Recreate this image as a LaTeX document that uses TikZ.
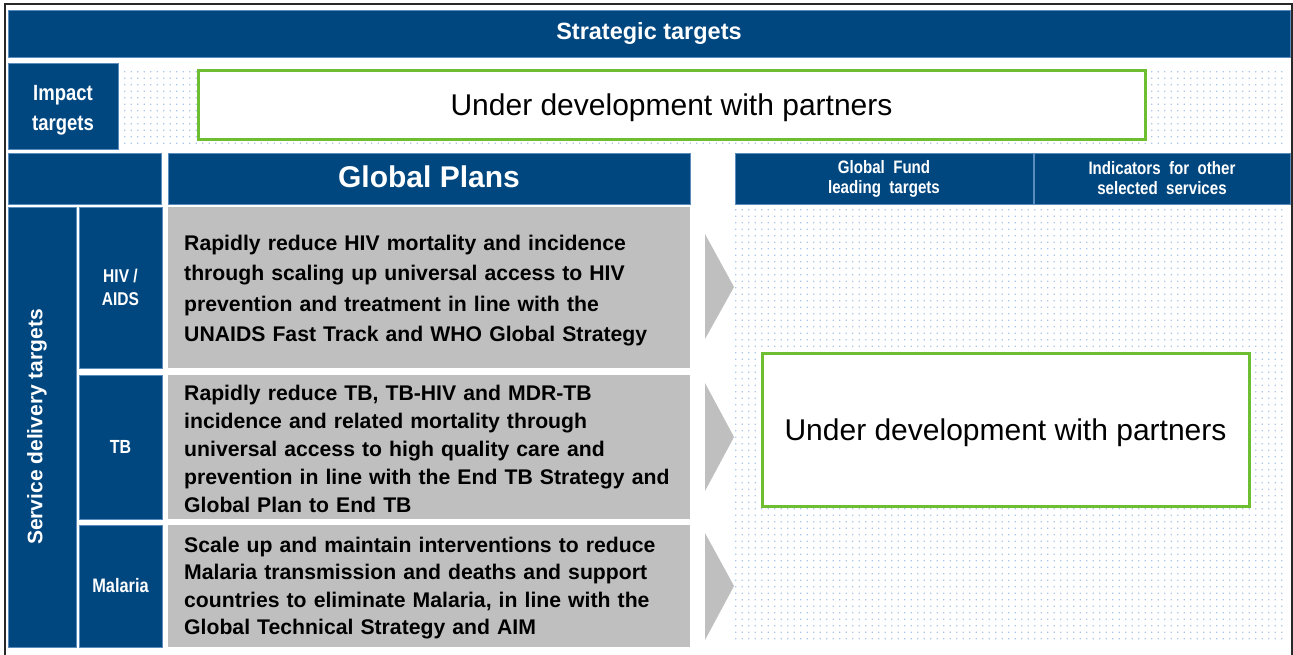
\documentclass[tikz,border=0pt]{standalone}
\usepackage{fontspec}
\setmainfont{Liberation Sans}
\newfontfamily\narrowfont[FakeStretch=0.84]{Liberation Sans}
\definecolor{navy}{RGB}{0,71,128}
\definecolor{navyedge}{RGB}{90,140,190}
\definecolor{boxgray}{RGB}{191,191,191}
\definecolor{lime}{RGB}{110,190,50}
\definecolor{dotblue}{RGB}{170,198,235}
\definecolor{framegray}{RGB}{40,40,40}
\begin{document}
\begin{tikzpicture}[x=1pt,y=-1pt,
  cell/.style={anchor=north west, inner sep=0pt, outer sep=0pt},
  bluecell/.style={cell, fill=navy, draw=navyedge, line width=0.6pt, text=white, align=center},
  whitetext/.style={text=white, align=center, inner sep=0pt},
  graycell/.style={cell, fill=boxgray},
  graytext/.style={anchor=west, inner sep=0pt, text=black, align=left, text width=492pt},
  greenbox/.style={cell, fill=white, draw=lime, line width=3pt},
  devtext/.style={inner sep=0pt, font=\fontsize{30}{36}\selectfont},
  chevron/.style={fill=boxgray}
]
\useasboundingbox (0,0) rectangle (1293,654);
\fill[white] (0,0) rectangle (1293,654);

% dotted backgrounds
\fill[dotblue] \foreach \i in {0,...,178} {\foreach \j in {0,...,11} {(124+\i*6.5,71+\j*6.5) rectangle ++(1.4,1.4)}};
\fill[dotblue] \foreach \i in {0,...,84} {\foreach \j in {0,...,66} {(735+\i*6.5,209+\j*6.5) rectangle ++(1.4,1.4)}};

% frame
\draw[framegray, line width=2pt] (4.5,660) -- (4.5,4) -- (1291.5,4) -- (1291.5,660);

% header
\node[bluecell, minimum width=1282pt, minimum height=47pt,
      font=\bfseries\fontsize{23.5}{28}\selectfont] (hdr) at (8,10) {Strategic targets};

% impact row
\node[bluecell, minimum width=110pt, minimum height=86pt] (impact) at (8,63) {};
\node[whitetext, yshift=-4pt, font=\narrowfont\bfseries\fontsize{22}{30}\selectfont] (impactlabel) at (impact.center) {Impact\\targets};
\node[greenbox, minimum width=947pt, minimum height=69pt] (impactdev) at (198,70) {};
\node[devtext, yshift=-3pt] (impactdevtext) at (impactdev.center) {Under development with partners};

% second row headers
\node[bluecell, minimum width=153pt, minimum height=51pt] (corner) at (8,153) {};
\node[bluecell, minimum width=522pt, minimum height=51pt] (plans) at (168,153) {};
\node[whitetext, yshift=2pt, font=\bfseries\fontsize{30}{36}\selectfont] (planslabel) at (plans.center) {Global Plans};
\node[bluecell, minimum width=298pt, minimum height=51pt,
      font=\narrowfont\bfseries\fontsize{18}{20}\selectfont] (gfhead) at (735,153) {Global~ Fund\\leading~ targets};
\node[bluecell, minimum width=256pt, minimum height=51pt,
      font=\narrowfont\bfseries\fontsize{18}{20}\selectfont] (indhead) at (1034,153) {Indicators~ for~ other\\selected~ services};

% service delivery column
\node[bluecell, minimum width=68pt, minimum height=440pt] (svc) at (8,207) {};
\node[rotate=90, xshift=0pt, yshift=0pt, text=white, font=\bfseries\fontsize{21}{25}\selectfont, inner sep=0pt] (svclabel) at ([xshift=-5pt]svc.center) {Service delivery targets};

% disease labels
\node[bluecell, minimum width=83pt, minimum height=161pt,
      font=\narrowfont\bfseries\fontsize{18.5}{23}\selectfont] (hiv) at (79,207) {HIV /\\AIDS};
\node[bluecell, minimum width=83pt, minimum height=144pt,
      font=\narrowfont\bfseries\fontsize{19}{23}\selectfont] (tb) at (79,375) {TB};
\node[bluecell, minimum width=83pt, minimum height=122pt,
      font=\narrowfont\bfseries\fontsize{19.5}{23}\selectfont] (malaria) at (79,525) {Malaria};

% plan boxes
\node[graycell, minimum width=522pt, minimum height=161pt] (hivbox) at (168,207) {};
\node[graycell, minimum width=522pt, minimum height=144pt] (tbbox) at (168,375) {};
\node[graycell, minimum width=522pt, minimum height=122pt] (malbox) at (168,525) {};

% plan texts
\node[graytext, yshift=-3pt, font=\bfseries\fontsize{21.2}{30.3}\selectfont] (hivplan) at ([xshift=16pt]hivbox.west)
  {Rapidly reduce HIV mortality and incidence\\
   through scaling up universal access to HIV\\
   prevention and treatment in line with the\\
   UNAIDS Fast Track and WHO Global Strategy};
\node[graytext, yshift=-2pt, font=\bfseries\fontsize{21.2}{28}\selectfont] (tbplan) at ([xshift=16pt]tbbox.west)
  {Rapidly reduce TB, TB-HIV and MDR-TB\\
   incidence and related mortality through\\
   universal access to high quality care and\\
   prevention in line with the End TB Strategy and\\
   Global Plan to End TB};
\node[graytext, yshift=-2pt, font=\bfseries\fontsize{21.2}{27.3}\selectfont] (malplan) at ([xshift=16pt]malbox.west)
  {Scale up and maintain interventions to reduce\\
   Malaria transmission and deaths and support\\
   countries to eliminate Malaria, in line with the\\
   Global Technical Strategy and AIM};

% chevrons
\fill[chevron] (705,234) -- (734,287) -- (705,339) -- cycle;
\fill[chevron] (705,383) -- (734,437) -- (705,491) -- cycle;
\fill[chevron] (705,533) -- (734,586) -- (705,640) -- cycle;

% lower green box
\node[greenbox, minimum width=487pt, minimum height=153pt] (servicedev) at (762,353) {};
\node[devtext, yshift=-3pt] (servicedevtext) at (servicedev.center) {Under development with partners};
\end{tikzpicture}
\end{document}
